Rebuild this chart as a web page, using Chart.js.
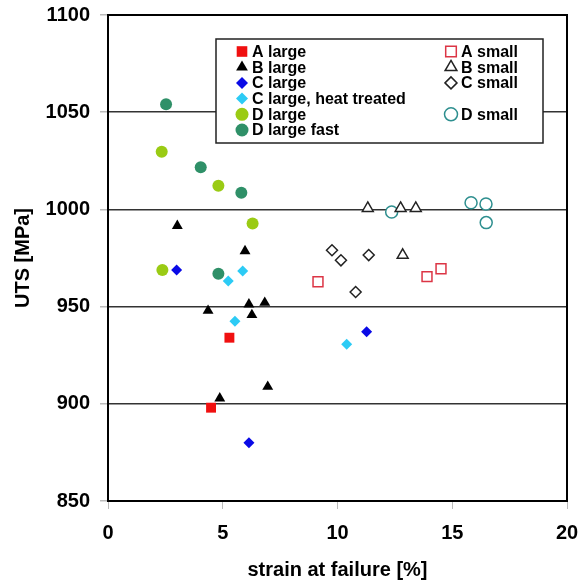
<!DOCTYPE html>
<html>
<head>
<meta charset="utf-8">
<script src="https://cdn.jsdelivr.net/npm/chart.js@4/dist/chart.umd.min.js"></script>
<style>
  html, body { margin: 0; padding: 0; background: #fff; }
</style>
</head>
<body>
<canvas id="myChart" width="581" height="583"></canvas>
<script>
// strain at failure [%] / UTS [MPa]
var aLargeX = [5.29, 4.49];
var aLargeY = [934, 898];
var bLargeX = [3.02, 5.97, 4.36, 6.14, 6.83, 6.27, 6.96, 4.87];
var bLargeY = [991.6, 978.6, 947.9, 951.2, 952, 945.7, 908.8, 902.8];
var cLargeX = [2.99, 11.27, 6.14];
var cLargeY = [968.8, 937.1, 880];
var cHeatX = [5.87, 5.24, 5.53, 10.40];
var cHeatY = [968.3, 963.2, 942.4, 930.6];
var dLargeX = [2.34, 4.81, 6.30, 2.37];
var dLargeY = [1029.7, 1012.2, 992.8, 968.8];
var dFastX = [2.53, 4.04, 5.81, 4.81];
var dFastY = [1054.1, 1021.7, 1008.6, 966.9];
var aSmallX = [9.15, 13.90, 14.51];
var aSmallY = [962.8, 965.4, 969.5];
var bSmallX = [11.32, 12.75, 13.41, 12.84];
var bSmallY = [1000.6, 1000.6, 1000.6, 976.5];
var cSmallX = [9.76, 10.15, 11.36, 10.79];
var cSmallY = [979, 973.8, 976.5, 957.5];
var dSmallX = [12.36, 15.82, 16.47, 16.48];
var dSmallY = [998.7, 1003.4, 1002.8, 993.2];

var xTicks = [0, 5, 10, 15, 20];
var yTicks = [850, 900, 950, 1000, 1050, 1100];

// legend slots: column / row for each series
var legendCol = [0, 0, 0, 0, 0, 0, 1, 1, 1, 1];
var legendRow = [0, 1, 2, 3, 4, 5, 0, 1, 2, 4];

Chart.defaults.font.family = '"Liberation Sans", Arial, sans-serif';
Chart.defaults.color = '#000';

function pts (xs, ys) {
    return xs.map(function (x, i) { return {x: x, y: ys[i]}; });
}

function serie (label, xs, ys, style, fill, border, r, bw) {
    return {
        label: label,
        data: pts(xs, ys),
        pointStyle: style,
        backgroundColor: fill,
        borderColor: border,
        pointRadius: r,
        pointHoverRadius: r,
        borderWidth: bw,
        pointBorderWidth: bw,
        showLine: false
    };
}

var legendBox = {
    id: 'legendBox',
    afterDatasetsDraw: function (chart) {
        var ctx = chart.ctx;
        var a = chart.chartArea;
        ctx.save();
        ctx.strokeStyle = '#000';
        ctx.lineWidth = 2;
        ctx.strokeRect(a.left, a.top, a.right - a.left, a.bottom - a.top);

        ctx.fillStyle = '#fff';
        ctx.fillRect(216, 39, 327, 104);
        ctx.strokeStyle = '#222';
        ctx.lineWidth = 1.5;
        ctx.strokeRect(216, 39, 327, 104);

        ctx.font = 'bold 16px "Liberation Sans", Arial, sans-serif';
        ctx.textBaseline = 'middle';
        chart.data.datasets.forEach(function (ds, i) {
            var mx = legendCol[i] == 0 ? 242 : 451;
            var y = 51.5 + legendRow[i] * 15.7;
            ctx.fillStyle = ds.backgroundColor;
            ctx.strokeStyle = ds.borderColor;
            ctx.lineWidth = ds.borderWidth;
            Chart.helpers.drawPoint(ctx, {
                pointStyle: ds.pointStyle,
                radius: ds.pointRadius + 0.5,
                borderWidth: ds.borderWidth,
                rotation: 0
            }, mx, y);
            ctx.fillStyle = '#000';
            ctx.fillText(ds.label, mx + 10, y + 1);
        });
        ctx.restore();
    }
};

function plain (v) { return String(v); }

var ctx = document.getElementById('myChart').getContext('2d');
var chart = new Chart(ctx, {
    type: 'scatter',
    data: {
        datasets: [
            serie('A large', aLargeX, aLargeY, 'rect', '#f01010', '#f01010', 7, 0),
            serie('B large', bLargeX, bLargeY, 'triangle', '#000', '#000', 6.3, 0),
            serie('C large', cLargeX, cLargeY, 'rectRot', '#0a0ae6', '#0a0ae6', 5.5, 0),
            serie('C large, heat treated', cHeatX, cHeatY, 'rectRot', '#2ccbf5', '#2ccbf5', 5.5, 0),
            serie('D large', dLargeX, dLargeY, 'circle', '#9acb14', '#9acb14', 6, 0),
            serie('D large fast', dFastX, dFastY, 'circle', '#2f9068', '#2f9068', 6, 0),
            serie('A small', aSmallX, aSmallY, 'rect', '#fff', '#dc3545', 7, 1.5),
            serie('B small', bSmallX, bSmallY, 'triangle', '#fff', '#222', 6.3, 1.5),
            serie('C small', cSmallX, cSmallY, 'rectRot', '#fff', '#222', 5.5, 1.5),
            serie('D small', dSmallX, dSmallY, 'circle', '#fff', '#2e8f8f', 6, 1.5)
        ]
    },
    options: {
        responsive: false,
        animation: false,
        layout: {padding: {top: 15, right: 14, bottom: 0, left: 0}},
        plugins: {legend: {display: false}, tooltip: {enabled: false}},
        scales: {
            x: {
                type: 'linear',
                min: xTicks[0],
                max: xTicks[xTicks.length - 1],
                afterBuildTicks: function (s) { s.ticks = xTicks.map(function (v) { return {value: v}; }); },
                ticks: {color: '#000', font: {size: 20, weight: 'bold'}, padding: 12, callback: plain},
                grid: {drawOnChartArea: false, tickLength: 8, tickColor: '#bbb'},
                border: {display: false},
                title: {
                    display: true,
                    text: 'strain at failure [%]',
                    color: '#000',
                    font: {size: 20, weight: 'bold'},
                    padding: {top: 0, bottom: 1}
                },
                afterFit: function (s) {
                    s.height = 82;
                    s.paddingLeft = 0;
                    s.paddingRight = 0;
                }
            },
            y: {
                type: 'linear',
                min: yTicks[0],
                max: yTicks[yTicks.length - 1],
                afterBuildTicks: function (s) { s.ticks = yTicks.map(function (v) { return {value: v}; }); },
                ticks: {color: '#000', font: {size: 20, weight: 'bold'}, padding: 10, callback: plain},
                grid: {color: '#333', lineWidth: 1.5, tickLength: 8, tickColor: '#bbb'},
                border: {display: false},
                title: {
                    display: true,
                    text: 'UTS [MPa]',
                    color: '#000',
                    font: {size: 20, weight: 'bold'},
                    padding: {top: 11, bottom: 0}
                },
                afterFit: function (s) {
                    s.width = 108;
                    s.paddingTop = 0;
                    s.paddingBottom = 0;
                }
            }
        }
    },
    plugins: [legendBox]
});
</script>
</body>
</html>
